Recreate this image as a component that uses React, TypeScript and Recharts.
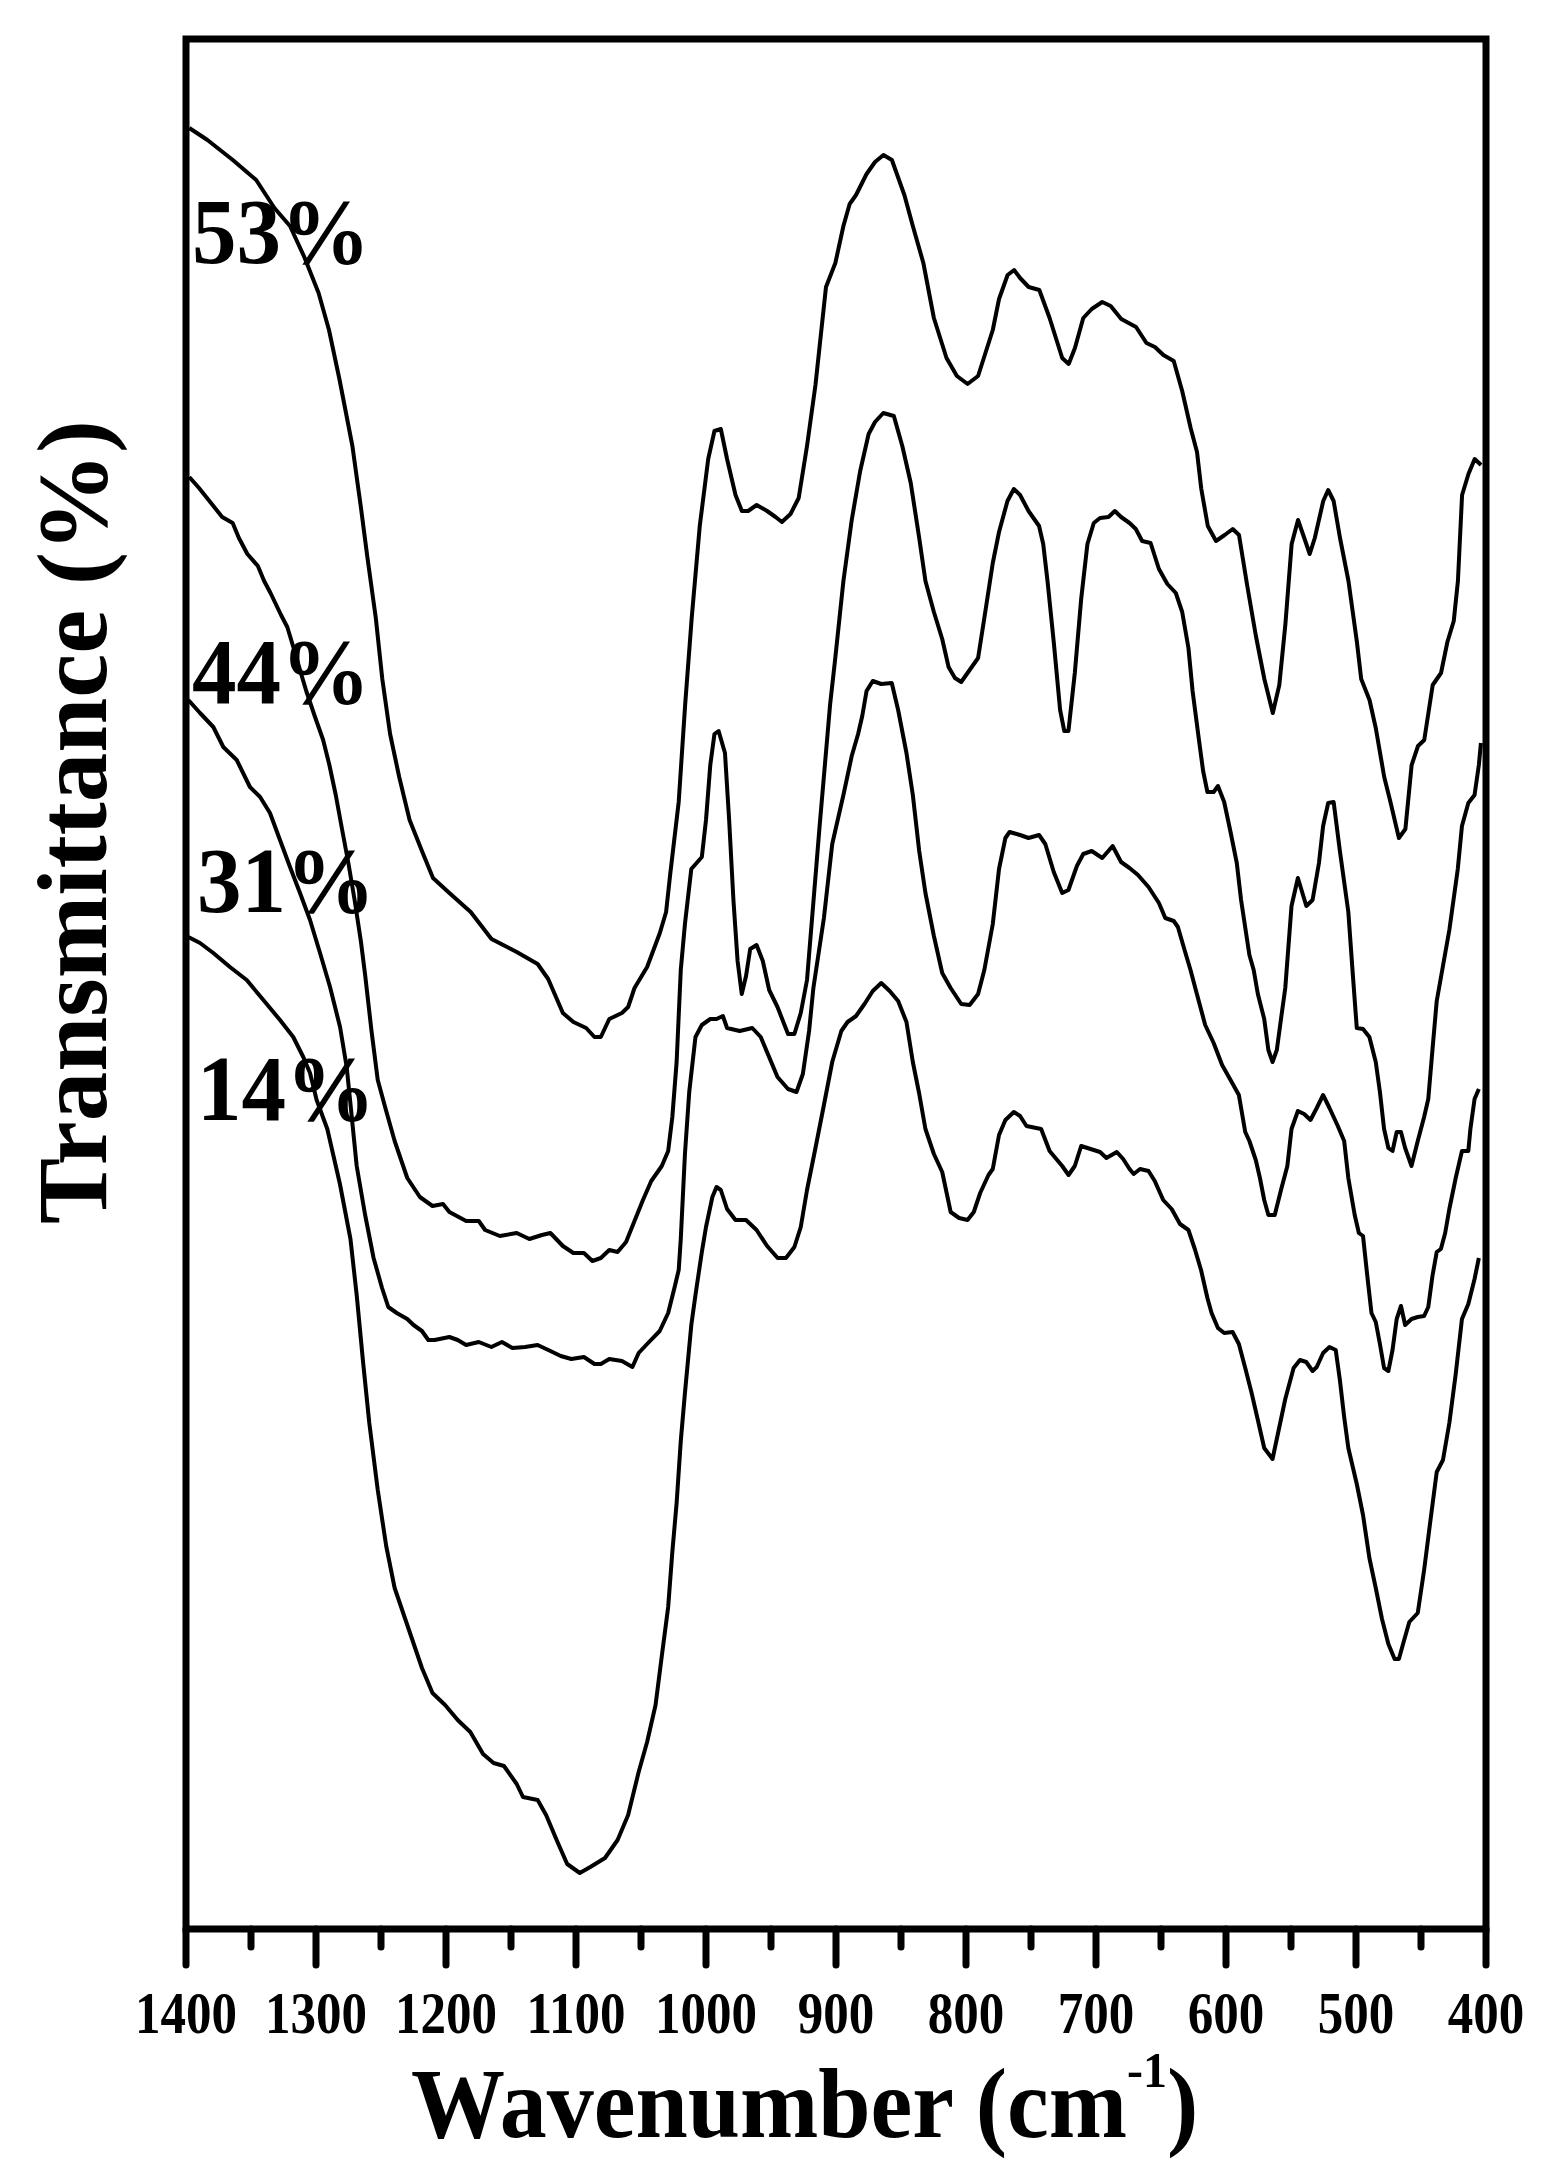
import React from 'react';
import { LineChart, Line, XAxis, YAxis, ReferenceArea } from 'recharts';

// Wavenumber axis (cm-1)
const MAJOR_TICKS = [1400, 1300, 1200, 1100, 1000, 900, 800, 700, 600, 500, 400];
const MINOR_TICKS = [1350, 1250, 1150, 1050, 950, 850, 750, 650, 550, 450];
const X_DOMAIN: [number, number] = [400, 1400];
const Y_DOMAIN: [number, number] = [0, 189];

const SERIES_LABELS = ['53%', '44%', '31%', '14%'];

// [wavenumber, transmittance (a.u., offset-stacked)]
const S53: [number, number][] = [
  [1397.5, 180.1], [1383.5, 178.9], [1364, 176.9], [1346, 174.9], [1332, 172.1], [1320, 170.3], [1309, 167.2],
  [1298, 163.6], [1290, 159.9], [1282, 155.0], [1272, 148.3], [1265.4, 142.1], [1260.5, 137.2], [1254, 131.1],
  [1249, 125.0], [1243, 119.5], [1236, 115.2], [1228, 110.9], [1218.5, 107.8], [1210, 105.1], [1197.4, 103.6],
  [1181, 101.7], [1165, 99.0], [1145.6, 97.7], [1129.5, 96.5], [1121.4, 95.0], [1110.1, 91.6], [1102, 90.7],
  [1092.2, 90.1], [1085.8, 89.2], [1080.9, 89.2], [1074.4, 91.0], [1064.7, 91.6], [1059.9, 92.2], [1055, 94.1],
  [1045.3, 96.2], [1035.5, 99.6], [1030.7, 101.7], [1027.6, 105.4], [1021, 112.7], [1016, 122.5], [1011, 131.1],
  [1004.8, 140.3], [998.3, 147.0], [993.5, 149.8], [988.6, 150.0], [983.8, 147.0], [977.3, 143.4], [972.4, 141.8],
  [967.6, 141.8], [961, 142.4], [953, 141.8], [946.5, 141.2], [941.6, 140.7], [935, 141.5], [928.7, 143.1],
  [922.3, 148.3], [915.8, 154.4], [907.7, 164.2], [900.5, 166.6], [894.3, 170.3], [889.5, 172.5], [884.6, 173.4],
  [876.5, 175.5], [870, 176.7], [863.5, 177.4], [857, 176.9], [847.4, 173.4], [840.9, 170.3], [832.8, 166.6],
  [824.7, 161.1], [815, 157.1], [807, 155.3], [798.8, 154.5], [790.7, 155.3], [779.4, 159.9], [774.6, 163.0],
  [768, 165.4], [763, 165.9], [758.4, 165.1], [751.8, 164.2], [743.6, 163.9], [735.7, 161.1], [726, 157.1],
  [721, 156.5], [716.2, 158.1], [709.8, 161.1], [703.3, 162.0], [695.2, 162.7], [688.7, 162.3], [680.6, 161.0],
  [669.2, 160.2], [661.2, 158.6], [654.7, 158.2], [648.2, 157.4], [640.2, 156.8], [633.7, 153.8], [627.2, 150.1],
  [622.3, 147.7], [619, 144.0], [614, 140.3], [607.7, 138.8], [601, 139.4], [594.8, 140.0], [590, 139.4],
  [583.5, 134.2], [577, 129.3], [570.5, 125.0], [564, 121.6], [559, 124.4], [554.3, 130.5], [549.5, 138.5],
  [544.6, 140.9], [539.8, 139.1], [535.6, 137.5], [531.7, 139.1], [525.2, 142.8], [521.4, 143.9], [517.2, 142.8],
  [512.3, 139.1], [505.8, 134.8], [499.3, 128.7], [496, 125.0], [489.6, 122.9], [484.8, 120.1], [478.3, 115.2],
  [473.5, 112.7], [467, 109.1], [462, 110.0], [457.2, 116.4], [452.3, 118.3], [447.5, 118.9], [441, 124.4],
  [434.6, 125.6], [429.7, 128.7], [424.8, 130.8], [421.6, 134.8], [418.4, 143.4], [413.5, 145.5], [408.7, 147.0],
  [403.8, 146.4],
];

const S44: [number, number][] = [
  [1397.5, 145.2], [1390, 144.1], [1382, 142.8], [1372.2, 141.2], [1364.1, 140.6], [1359.3, 139.1], [1352.8, 137.5],
  [1344.7, 136.3], [1339.9, 134.8], [1335, 133.6], [1326.9, 131.4], [1322.1, 130.2], [1317.2, 128.1], [1312.3, 125.9],
  [1307.5, 123.8], [1301, 121.3], [1294.5, 118.9], [1289.7, 116.4], [1284.8, 113.4], [1280, 110.0], [1275.1, 106.6],
  [1270.3, 102.9], [1265.4, 98.7], [1262.2, 95.4], [1257.3, 89.8], [1252.5, 84.9], [1246, 81.8], [1239.5, 78.8],
  [1229.8, 75.1], [1220.1, 73.2], [1210.4, 72.3], [1202.3, 72.5], [1197.4, 71.7], [1184.5, 70.8], [1174.8, 70.8],
  [1169.9, 69.9], [1158.6, 69.3], [1145.6, 69.6], [1135.9, 69.0], [1126.2, 69.4], [1119.7, 69.6], [1110.1, 68.3],
  [1102, 67.6], [1093.9, 67.6], [1087.4, 66.8], [1080.9, 67.1], [1074.4, 67.9], [1068, 67.7], [1061.5, 68.7],
  [1055, 70.8], [1048.5, 72.9], [1042.1, 74.8], [1034, 76.3], [1029.1, 77.8], [1025.9, 81.2], [1022.6, 86.7],
  [1019.4, 95.9], [1016.2, 100.5], [1011.3, 106.0], [1003.2, 107.2], [1000, 110.9], [996.7, 116.4], [993.5, 119.5],
  [990.3, 119.8], [985.4, 117.6], [982.2, 110.9], [978.9, 102.9], [975.7, 96.8], [972.5, 93.5], [969.2, 95.3],
  [966, 98.0], [961.1, 98.4], [956.3, 96.8], [951.4, 93.9], [945, 92.2], [936.9, 89.5], [932, 89.5], [927.1, 91.6],
  [922.3, 94.9], [912.6, 110.3], [904.5, 122.5], [900.8, 126.8], [894.3, 134.8], [887.9, 140.9], [881.4, 145.8],
  [874.9, 149.5], [870, 150.7], [863.6, 151.6], [855.5, 151.3], [849, 148.3], [842.5, 144.6], [836, 139.1],
  [831.2, 134.8], [824.7, 131.7], [818.3, 129.0], [813.4, 126.2], [808.5, 125.1], [803.7, 124.7], [797.2, 125.9],
  [790.7, 127.1], [785.9, 131.1], [779.4, 136.6], [774.6, 139.7], [768.1, 142.8], [763.2, 144.0], [758.4, 143.4],
  [751.9, 141.8], [743.8, 140.3], [740.6, 138.5], [737.3, 134.8], [732.5, 128.7], [727.6, 121.9], [724.4, 119.8],
  [721.2, 119.8], [716.3, 125.6], [711.4, 133.0], [706.6, 138.5], [701.7, 140.6], [696.9, 141.1], [690.4, 141.2],
  [685.5, 141.8], [680.7, 141.2], [674.2, 140.6], [669.4, 140.0], [664.5, 138.8], [658, 138.6], [651.6, 136.0],
  [645.1, 134.5], [638.6, 133.6], [633.7, 131.7], [628.9, 128.1], [625.7, 123.8], [620.8, 118.9], [617.6, 115.8],
  [614.3, 113.7], [609.5, 113.7], [606.2, 114.3], [601.4, 112.7], [596.5, 109.7], [591.7, 106.6], [588.4, 102.9],
  [582, 97.4], [578.7, 95.9], [575.5, 93.5], [570.6, 91.0], [567.4, 87.9], [564.2, 86.7], [560.9, 87.9],
  [557.7, 91.0], [554.4, 94.1], [549.6, 102.3], [544.7, 105.1], [538.2, 102.3], [533.4, 102.9], [528.5, 106.6],
  [525.3, 110.3], [521.4, 112.6], [517.2, 112.7], [512.4, 107.8], [505.9, 101.7], [502.7, 95.9], [499.4, 90.1],
  [494.6, 90.0], [489.7, 89.2], [484.8, 86.7], [481.6, 83.7], [478.4, 80.0], [475.1, 78.1], [471.9, 77.8],
  [468.7, 79.7], [465.4, 79.7], [462.2, 78.1], [457.3, 76.3], [452.5, 78.8], [447.6, 81.2], [444.4, 83.0],
  [441.2, 87.9], [437.9, 92.8], [428.2, 99.9], [421.7, 106.0], [418.5, 110.3], [413.6, 112.6], [408.8, 113.4],
  [405.5, 116.4], [403.9, 118.6],
];

const S31: [number, number][] = [
  [1398.2, 122.9], [1389.2, 121.6], [1379, 120.2], [1371.3, 118.2], [1361, 116.9], [1350.8, 114.2], [1343, 113.2],
  [1335.4, 111.6], [1327.7, 108.9], [1320, 106.2], [1312.3, 103.6], [1304.6, 100.9], [1296.9, 97.6], [1289.2, 94.2],
  [1281.5, 90.2], [1276.4, 86.2], [1273.8, 82.9], [1268.7, 76.3], [1262.2, 71.4], [1255.7, 67.1], [1249.2, 64.1],
  [1244.4, 62.2], [1237.9, 61.6], [1229.8, 61.0], [1225, 60.4], [1218.5, 59.8], [1213.6, 58.9], [1208.8, 58.9],
  [1197.4, 59.2], [1191, 58.9], [1184.5, 58.4], [1174.8, 58.7], [1165.1, 58.2], [1157, 58.7], [1148.9, 58.1],
  [1139.2, 58.2], [1129.5, 58.4], [1119.7, 57.8], [1111.7, 57.3], [1103.6, 57.0], [1093.9, 57.2], [1085.8, 56.5],
  [1080.9, 56.5], [1074.4, 57.0], [1064.7, 56.8], [1056.6, 56.2], [1051.8, 57.6], [1045.3, 58.5], [1035.6, 59.8],
  [1029.1, 61.6], [1024.3, 64.1], [1021, 65.9], [1019.4, 69.0], [1016.2, 77.5], [1012.9, 83.7], [1008.1, 89.2],
  [1003.2, 90.4], [996.7, 91.0], [991.9, 91.0], [987, 91.3], [983.8, 90.1], [974.1, 89.8], [964.4, 90.1],
  [957.9, 89.2], [945, 85.2], [936.9, 84.0], [930.4, 83.7], [925.5, 85.5], [920.7, 89.8], [917.4, 94.1],
  [909.3, 101.1], [902.9, 108.5], [900.8, 109.7], [894.3, 113.4], [887.9, 117.3], [883, 119.5], [879.8, 121.3],
  [876.5, 123.8], [871.7, 124.8], [865.2, 124.5], [857.1, 124.6], [852.2, 121.9], [845.8, 117.6], [840.9, 113.4],
  [836, 107.8], [831.2, 103.6], [824.7, 99.3], [818.3, 95.6], [811.8, 94.1], [803.7, 92.5], [797.2, 92.4],
  [790.7, 93.5], [785.9, 95.9], [779.4, 100.5], [774.6, 106.0], [769.7, 109.1], [766.5, 109.7], [758.4, 109.4],
  [751.9, 109.1], [743.8, 109.4], [739, 108.5], [732.5, 105.7], [726, 103.6], [721.2, 103.9], [714.7, 106.3],
  [709.8, 107.5], [703.3, 107.8], [695.2, 107.1], [687.2, 108.3], [680.7, 106.7], [674.2, 106.1], [667.7, 105.4],
  [659.6, 104.2], [651.6, 102.6], [646.7, 101.1], [640.2, 100.8], [637, 100.2], [632.1, 98.0], [627.3, 95.9],
  [622.4, 93.5], [616, 90.4], [609.5, 88.6], [603, 86.4], [596.5, 84.9], [590.1, 83.4], [585.2, 79.7],
  [582, 78.8], [577.1, 76.9], [573.9, 75.1], [570.6, 72.9], [567.4, 71.4], [562.5, 71.4], [557.7, 73.9],
  [552.8, 76.3], [549.6, 80.0], [544.7, 81.8], [539.9, 81.5], [535, 80.9], [530.2, 82.1], [525.3, 83.4],
  [520.4, 82.1], [514, 80.3], [509.1, 78.8], [505.9, 75.1], [501, 71.4], [497.8, 69.6], [494.6, 69.3],
  [491.3, 65.3], [488.1, 61.6], [484.8, 60.7], [481.6, 58.5], [478.4, 56.1], [475.1, 55.8], [471.9, 57.9],
  [468.7, 61.0], [465.4, 62.3], [462.2, 60.4], [457.3, 61.0], [452.5, 61.2], [447.6, 61.3], [444.4, 62.2],
  [441.2, 65.3], [437.9, 67.7], [434.7, 68.0], [431.4, 69.6], [428.2, 72.0], [423.3, 75.1], [418.5, 77.8],
  [413.6, 77.8], [412, 80.0], [408.8, 83.0], [405.5, 84.0],
];

const S14: [number, number][] = [
  [1398.2, 99.2], [1389.2, 98.6], [1379, 97.6], [1366.2, 96.2], [1353.3, 94.9], [1340.5, 92.9], [1327.7, 90.9],
  [1317.5, 89.2], [1309.8, 87.2], [1304.6, 85.6], [1299.5, 82.9], [1291.3, 80.0], [1281.6, 74.5], [1273.5, 69.0],
  [1268.7, 63.4], [1263.8, 56.7], [1259, 50.6], [1252.5, 43.9], [1246, 38.3], [1239.5, 34.1], [1229.8, 30.4],
  [1218.5, 26.1], [1210.4, 23.6], [1200.7, 22.4], [1191, 20.9], [1181.3, 19.7], [1171.5, 17.5], [1163.4, 16.6],
  [1155.4, 16.3], [1145.6, 14.5], [1140.8, 13.2], [1129.5, 12.9], [1123, 11.4], [1114.9, 8.9], [1106.8, 6.5],
  [1097.1, 5.6], [1089, 6.2], [1077.7, 7.1], [1068, 8.9], [1059.9, 11.4], [1051.8, 15.7], [1045.3, 18.7],
  [1038.8, 22.4], [1034, 27.3], [1029.1, 32.2], [1025.9, 37.7], [1022.6, 42.6], [1019.4, 48.8], [1016.2, 53.6],
  [1011.3, 60.4], [1008.1, 63.4], [1003.2, 67.7], [1000, 70.2], [995.1, 73.2], [991.9, 74.2], [988.6, 73.9],
  [983.8, 72.0], [977.3, 70.9], [969.2, 70.9], [961.1, 69.9], [953, 68.3], [944.9, 67.1], [938.5, 67.1],
  [932, 68.2], [927.1, 70.2], [922.3, 73.9], [915.8, 78.1], [909.3, 82.4], [902.9, 86.7], [895.9, 89.8],
  [891.1, 90.7], [884.6, 91.3], [878.1, 92.5], [871.7, 93.8], [865.2, 94.6], [858.7, 93.8], [852.2, 92.8],
  [845.8, 90.7], [840.9, 86.7], [836.1, 83.6], [831.2, 80.0], [824.7, 77.5], [818.3, 75.7], [811.8, 71.7],
  [805.3, 71.1], [798.8, 70.9], [794, 71.7], [789.1, 73.6], [782.7, 75.4], [779.4, 76.0], [774.6, 79.4],
  [769.7, 80.9], [763.2, 81.7], [758.4, 81.3], [753.5, 80.3], [742.2, 80.0], [735.7, 77.8], [726, 76.3],
  [721.1, 75.4], [716.3, 76.3], [711.4, 78.3], [706.6, 78.1], [696.9, 77.7], [692, 77.1], [684, 77.7],
  [679.1, 77.0], [674.2, 76.0], [671, 75.5], [666.1, 76.0], [659.6, 75.8], [654.8, 74.8], [648.3, 72.9],
  [641.8, 72.0], [635.4, 70.5], [628.9, 69.9], [624, 68.0], [619.2, 65.9], [614.3, 63.1], [611.1, 61.6],
  [606.2, 60.1], [601.4, 59.6], [594.9, 59.7], [590.1, 58.5], [585.2, 56.1], [580.3, 53.6], [575.5, 50.9],
  [570.6, 48.1], [564.2, 47.0], [559.3, 50.0], [554.4, 53.0], [548, 56.1], [543.1, 56.9], [538.3, 56.7],
  [533.4, 55.8], [530.2, 56.2], [525.3, 57.6], [520.4, 58.2], [515.6, 57.9], [512.4, 54.9], [509.1, 51.2],
  [505.9, 48.1], [499.4, 44.5], [494.6, 41.4], [489.7, 37.1], [484.8, 34.1], [480, 31.0], [475.1, 28.5],
  [470.3, 27.0], [467, 27.0], [463.8, 28.5], [459, 30.7], [452.5, 31.6], [447.6, 35.9], [442.8, 40.8],
  [437.9, 45.7], [433.1, 46.9], [428.2, 50.6], [423.3, 55.5], [418.5, 61.0], [413.6, 62.5], [408.8, 65.0],
  [405.5, 67.1],
];

const ALL_TICKS = [...MAJOR_TICKS, ...MINOR_TICKS].sort((a, b) => b - a);
const toRows = (pts: [number, number][]) => pts.map(([wn, t]) => ({ wn, t }));
const SERIES = [S53, S44, S31, S14].map(toRows);

const FONT = '"Liberation Serif", "Times New Roman", Times, serif';

const AxisTick = (props: any) => {
  const { x, y, payload } = props;
  const v = payload.value as number;
  const major = MAJOR_TICKS.includes(v);
  return (
    <g>
      <line x1={x} x2={x} y1={y} y2={y + (major ? 36 : 18)} stroke="#000" strokeWidth={7} strokeLinecap="round" />
      {major && (
        <text
          transform={`translate(${x} ${y + 104}) scale(1 1.17)`}
          textAnchor="middle"
          fontFamily={FONT}
          fontWeight="bold"
          fontSize={51}
          fill="#000"
        >
          {v}
        </text>
      )}
    </g>
  );
};

const LABEL_POS = [
  { x: 184, y: 255 },
  { x: 184, y: 695 },
  { x: 189, y: 904 },
  { x: 189, y: 1112 },
];

export default function App() {
  return (
    <div style={{ width: 1547, height: 2166, background: '#fff' }}>
      <LineChart width={1547} height={2166} margin={{ top: 31, right: 69, bottom: 0, left: 178 }}>
        <XAxis
          type="number"
          dataKey="wn"
          domain={X_DOMAIN}
          reversed
          ticks={ALL_TICKS}
          interval={0}
          tickSize={0}
          tickMargin={0}
          axisLine={false}
          tickLine={false}
          height={245}
          tick={(p: any) => <AxisTick {...p} />}
        />
        <YAxis type="number" domain={Y_DOMAIN} hide />
        <ReferenceArea
          x1={X_DOMAIN[0]}
          x2={X_DOMAIN[1]}
          y1={Y_DOMAIN[0]}
          y2={Y_DOMAIN[1]}
          fill="none"
          fillOpacity={0}
          stroke="#000"
          strokeWidth={7}
        />
        {SERIES.map((d, i) => (
          <Line
            key={SERIES_LABELS[i]}
            data={d}
            dataKey="t"
            type="linear"
            stroke="#000"
            strokeWidth={4}
            strokeLinejoin="round"
            dot={false}
            activeDot={false}
            isAnimationActive={false}
          />
        ))}
        {SERIES_LABELS.map((lab, i) => (
          <text
            key={lab}
            transform={`translate(${LABEL_POS[i].x} ${LABEL_POS[i].y}) scale(1 1.04)`}
            fontFamily={FONT}
            fontWeight="bold"
            fontSize={89}
            fill="#000"
          >
            {lab}
          </text>
        ))}
        <text
          transform="translate(98 814) rotate(-90)"
          textAnchor="middle"
          fontFamily={FONT}
          fontWeight="bold"
          fontSize={99}
          fill="#000"
        >
          Transmittance (%)
        </text>
        <text transform="translate(403 2129) scale(1 1.05)" fontFamily={FONT} fontWeight="bold" fontSize={94} fill="#000">
          Wavenumber (cm
          <tspan fontSize={48} dy={-48}>-1</tspan>
          <tspan fontSize={94} dy={48}>)</tspan>
        </text>
      </LineChart>
    </div>
  );
}
